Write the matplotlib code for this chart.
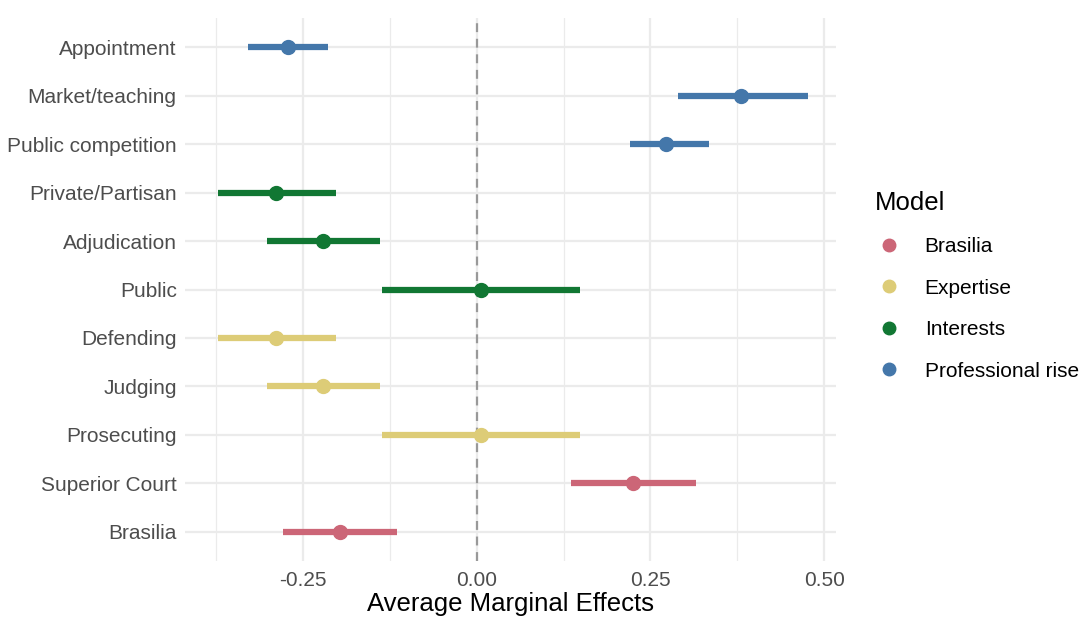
import numpy as np
import matplotlib.pyplot as plt
from matplotlib.lines import Line2D

plt.rcParams['font.family'] = ['Liberation Sans', 'DejaVu Sans']

# data (top to bottom as shown)
terms = ['Appointment', 'Market/teaching', 'Public competition', 'Private/Partisan',
         'Adjudication', 'Public', 'Defending', 'Judging', 'Prosecuting',
         'Superior Court', 'Brasilia']
model = ['Professional rise', 'Professional rise', 'Professional rise', 'Interests',
         'Interests', 'Interests', 'Expertise', 'Expertise', 'Expertise',
         'Brasilia', 'Brasilia']
estimate = [-0.272, 0.380, 0.272, -0.289, -0.222, 0.006, -0.289, -0.222, 0.006, 0.225, -0.197]
conf_low = [-0.329, 0.290, 0.221, -0.373, -0.302, -0.137, -0.373, -0.302, -0.137, 0.135, -0.279]
conf_high = [-0.214, 0.477, 0.334, -0.203, -0.140, 0.149, -0.203, -0.140, 0.149, 0.316, -0.115]

models = ['Brasilia', 'Expertise', 'Interests', 'Professional rise']
colors = {'Brasilia': '#CC6677', 'Expertise': '#DDCC77',
          'Interests': '#117733', 'Professional rise': '#4477AA'}

fig = plt.figure(figsize=(10.8, 6.21), dpi=100)
ax = fig.add_axes([185 / 1080, 1 - 561 / 621, (836 - 185) / 1080, (561 - 18) / 621])

n = len(terms)
ypos = np.arange(n)[::-1]

ax.axvline(0, color='#999999', ls=(0, (4, 3)), lw=1.6, zorder=1)
for i in range(n):
    c = colors[model[i]]
    ax.plot([conf_low[i], conf_high[i]], [ypos[i], ypos[i]], color=c, lw=4.5,
            solid_capstyle='butt', zorder=2)
    ax.plot(estimate[i], ypos[i], 'o', color=c, ms=10, zorder=3)

ax.set_xlim(-0.42, 0.517)
ax.set_ylim(-0.6, n - 0.4)
ax.set_yticks(ypos)
ax.set_yticklabels(terms)
ax.set_xticks([-0.25, 0, 0.25, 0.5])
ax.set_xticklabels(['-0.25', '0.00', '0.25', '0.50'])
ax.set_xticks([-0.375, -0.125, 0.125, 0.375], minor=True)
ax.grid(True, which='major', color='#EBEBEB', lw=1.6, zorder=0)
ax.grid(True, which='minor', axis='x', color='#EBEBEB', lw=0.9, zorder=0)
ax.set_axisbelow(True)
for s in ax.spines.values():
    s.set_visible(False)
ax.tick_params(axis='both', which='both', length=0, labelsize=15, labelcolor='#4D4D4D')
ax.tick_params(axis='x', pad=7)
ax.tick_params(axis='y', pad=6)
ax.set_xlabel('Average Marginal Effects', fontsize=18.5, labelpad=2)

handles = [Line2D([], [], marker='o', ls='', color=colors[m], ms=9) for m in models]
leg = fig.legend(handles, models, title='Model', loc='upper left',
                 bbox_to_anchor=(856 / 1080, 1 - 172 / 621), frameon=False,
                 fontsize=15, title_fontsize=18.5, labelspacing=1.08,
                 handletextpad=1.0, handlelength=1.4)
leg._legend_box.align = 'left'

fig.savefig('out.png', dpi=100)
